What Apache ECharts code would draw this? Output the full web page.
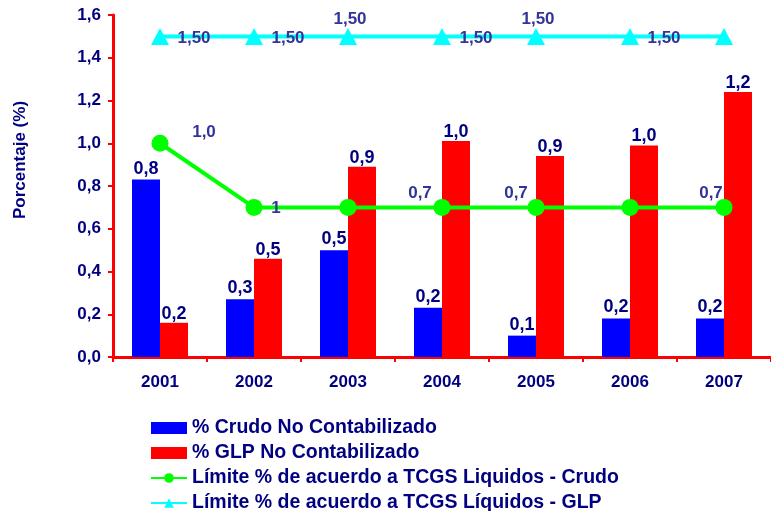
<!DOCTYPE html>
<html>
<head>
<meta charset="utf-8">
<script src="https://cdn.jsdelivr.net/npm/echarts@6/dist/echarts.min.js"></script>
<style>html,body{margin:0;padding:0;background:#fff}#c{width:771px;height:511px}</style>
</head>
<body>
<div id="c"></div>
<script>
const categories = ['2001','2002','2003','2004','2005','2006','2007'];
const crudo = [0.83, 0.27, 0.50, 0.23, 0.10, 0.18, 0.18];
const glp = [0.16, 0.46, 0.89, 1.01, 0.94, 0.99, 1.24];
const limiteCrudo = [1.0, 0.7, 0.7, 0.7, 0.7, 0.7, 0.7];
const limiteGlp = [1.5, 1.5, 1.5, 1.5, 1.5, 1.5, 1.5];
const limiteCrudoLabels = ['1,0', '1', '', '0,7', '0,7', '', '0,7'];
const limiteGlpLabels = ['1,50', '1,50', '1,50', '1,50', '1,50', '1,50', ''];
const yTicks = { min: 0, max: 1.6, interval: 0.2 };

const FONT = 'Arial, "Liberation Sans", sans-serif';
const NAVY = '#000080';
const LBL = '#333399';
const crudoOffsets = [[44,-11],[22,1],[0,0],[-22,-14],[-20,-14],[0,0],[-13,-14]];
const glpOffsets = [[34,2],[34,2],[2,-17],[34,2],[2,-17],[34,2],[0,0]];

const fmt1 = v => v.toFixed(1).replace('.', ',');

const chart = echarts.init(document.getElementById('c'), null, {renderer: 'canvas'});
chart.setOption({
  animation: false,
  backgroundColor: '#fff',
  textStyle: { fontFamily: FONT },
  grid: { left: 113, top: 15, right: 0, bottom: 154, containLabel: false },
  xAxis: {
    type: 'category',
    data: categories,
    axisLine: { lineStyle: { color: '#ff0000', width: 3 } },
    axisTick: { show: true, length: 5, lineStyle: { color: '#ff0000', width: 2 } },
    axisLabel: { color: NAVY, fontWeight: 'bold', fontSize: 17, fontFamily: FONT, margin: 17 }
  },
  yAxis: {
    type: 'value',
    min: yTicks.min, max: yTicks.max, interval: yTicks.interval,
    axisLine: { show: true, lineStyle: { color: '#ff0000', width: 3 } },
    axisTick: { show: true, length: 5, lineStyle: { color: '#ff0000', width: 2 } },
    splitLine: { show: false },
    axisLabel: { color: NAVY, fontWeight: 'bold', fontSize: 17, fontFamily: FONT, margin: 12,
      formatter: v => fmt1(v) }
  },
  legend: {
    orient: 'vertical', left: 150, top: 418, height: 100, padding: 0,
    itemWidth: 36, itemHeight: 12, itemGap: 5,
    textStyle: { color: NAVY, fontWeight: 'bold', fontSize: 19.5, fontFamily: FONT, lineHeight: 19 },
    data: [
      { name: '% Crudo No Contabilizado', icon: 'rect' },
      { name: '% GLP No Contabilizado', icon: 'rect' },
      'Límite % de acuerdo a TCGS Liquidos - Crudo',
      'Límite % de acuerdo a TCGS Líquidos - GLP'
    ]
  },
  graphic: [{
    type: 'text', x: 20, y: 160, rotation: Math.PI / 2,
    style: { text: 'Porcentaje (%)', fill: NAVY, font: 'bold 17px ' + FONT, align: 'center', verticalAlign: 'middle' }
  }],
  series: [
    {
      name: '% Crudo No Contabilizado', type: 'bar', data: crudo,
      barWidth: 28, barGap: '0%',
      itemStyle: { color: '#0000ff' },
      label: { show: true, position: 'top', distance: 2, color: NAVY, fontWeight: 'bold', fontSize: 18, fontFamily: FONT,
        formatter: p => fmt1(p.value) }
    },
    {
      name: '% GLP No Contabilizado', type: 'bar', data: glp,
      barWidth: 28, barGap: '0%',
      itemStyle: { color: '#ff0000' },
      label: { show: true, position: 'top', distance: 0, color: NAVY, fontWeight: 'bold', fontSize: 18, fontFamily: FONT,
        formatter: p => fmt1(p.value) }
    },
    {
      name: 'Límite % de acuerdo a TCGS Liquidos - Crudo', type: 'line',
      data: limiteCrudo.map((v, i) => ({ value: v, label: { offset: crudoOffsets[i] } })),
      symbol: 'circle', symbolSize: 17,
      lineStyle: { color: '#00ff00', width: 4 }, itemStyle: { color: '#00ff00' },
      label: { show: true, position: 'inside', color: LBL, fontWeight: 'bold', fontSize: 17, fontFamily: FONT,
        formatter: p => limiteCrudoLabels[p.dataIndex] }
    },
    {
      name: 'Límite % de acuerdo a TCGS Líquidos - GLP', type: 'line',
      data: limiteGlp.map((v, i) => ({ value: v, label: { offset: glpOffsets[i] } })),
      symbol: 'triangle', symbolSize: [18, 17],
      lineStyle: { color: '#00ffff', width: 4 }, itemStyle: { color: '#00ffff' },
      label: { show: true, position: 'inside', color: LBL, fontWeight: 'bold', fontSize: 17, fontFamily: FONT,
        formatter: p => limiteGlpLabels[p.dataIndex] }
    }
  ]
});
</script>
</body>
</html>
